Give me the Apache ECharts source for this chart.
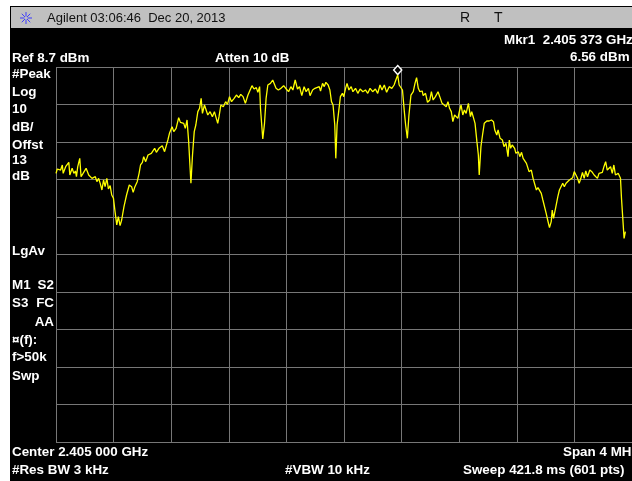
<!DOCTYPE html>
<html>
<head>
<meta charset="utf-8">
<title>Spectrum trace 2.405 GHz</title>
<script src="https://cdn.jsdelivr.net/npm/echarts@6/dist/echarts.min.js"></script>
<style>
  html, body { margin: 0; padding: 0; background: #fff; }
  #chart { width: 632px; height: 481px; }
</style>
</head>
<body>
<div id="chart"></div>
<script>
// Sweep settings
const centerMHz = 2405.0;
const spanMHz = 4.0;
const refLevelDbm = 8.7;
const dbPerDiv = 10;
const divisions = 10;

// Trace: frequency (MHz) and level (dBm)
const freqMHz = [
  2403.000, 2403.009, 2403.032, 2403.044, 2403.050, 2403.067, 2403.078, 2403.089, 2403.096, 2403.112,
  2403.124, 2403.135, 2403.142, 2403.151, 2403.165, 2403.174, 2403.188, 2403.209, 2403.227, 2403.250,
  2403.261, 2403.273, 2403.284, 2403.296, 2403.307, 2403.319, 2403.330, 2403.341, 2403.353, 2403.364,
  2403.376, 2403.387, 2403.399, 2403.410, 2403.422, 2403.433, 2403.445, 2403.456, 2403.472, 2403.490,
  2403.509, 2403.525, 2403.536, 2403.548, 2403.564, 2403.577, 2403.587, 2403.600, 2403.609, 2403.623,
  2403.639, 2403.662, 2403.685, 2403.697, 2403.715, 2403.738, 2403.754, 2403.777, 2403.788,
  2403.806, 2403.818, 2403.834, 2403.852, 2403.864, 2403.887, 2403.898, 2403.910, 2403.921, 2403.937,
  2403.948, 2403.960, 2403.971, 2403.985, 2403.997, 2404.008, 2404.017, 2404.031, 2404.042, 2404.054,
  2404.070, 2404.086, 2404.100, 2404.111, 2404.123, 2404.132, 2404.145, 2404.162, 2404.178, 2404.191,
  2404.205, 2404.219, 2404.237, 2404.253, 2404.269, 2404.283, 2404.299, 2404.315, 2404.333, 2404.345,
  2404.361, 2404.375, 2404.391, 2404.402, 2404.414, 2404.420, 2404.436, 2404.448, 2404.459, 2404.471,
  2404.489, 2404.505, 2404.517, 2404.528, 2404.544, 2404.562, 2404.581,
  2404.599, 2404.615, 2404.631, 2404.645, 2404.661, 2404.677, 2404.691, 2404.707, 2404.723, 2404.737,
  2404.753, 2404.764, 2404.782, 2404.798, 2404.810, 2404.828, 2404.837, 2404.851, 2404.863, 2404.874,
  2404.890, 2404.902, 2404.913, 2404.924, 2404.936, 2404.943, 2404.952, 2404.963, 2404.975, 2404.989,
  2404.998, 2405.011, 2405.021, 2405.034, 2405.050, 2405.062, 2405.080, 2405.096, 2405.112, 2405.131,
  2405.149, 2405.165, 2405.181, 2405.199, 2405.218, 2405.234, 2405.250, 2405.264, 2405.280, 2405.296,
  2405.314, 2405.332, 2405.348, 2405.360, 2405.373, 2405.383, 2405.392,
  2405.406, 2405.419, 2405.428, 2405.440, 2405.451, 2405.465, 2405.481, 2405.493, 2405.504, 2405.516,
  2405.527, 2405.543, 2405.550, 2405.566, 2405.580, 2405.596, 2405.607, 2405.619, 2405.635, 2405.653,
  2405.665, 2405.681, 2405.694, 2405.710, 2405.722, 2405.733, 2405.745, 2405.756, 2405.768, 2405.779,
  2405.791, 2405.802, 2405.813, 2405.825, 2405.836, 2405.848, 2405.864, 2405.878, 2405.887, 2405.900,
  2405.910, 2405.923, 2405.933, 2405.939, 2405.951, 2405.962, 2405.974, 2405.992, 2406.008, 2406.024,
  2406.038, 2406.047, 2406.061, 2406.070, 2406.084, 2406.100, 2406.111, 2406.125, 2406.139, 2406.148,
  2406.157, 2406.168, 2406.185,
  2406.194, 2406.210, 2406.221, 2406.233, 2406.244, 2406.255, 2406.267, 2406.278, 2406.285, 2406.301,
  2406.313, 2406.324, 2406.336, 2406.347, 2406.359, 2406.370, 2406.381, 2406.393, 2406.404, 2406.416,
  2406.427, 2406.439, 2406.446, 2406.455, 2406.469, 2406.485, 2406.496, 2406.507, 2406.519, 2406.530,
  2406.542, 2406.553, 2406.565, 2406.576, 2406.588, 2406.599, 2406.611, 2406.622, 2406.633, 2406.645,
  2406.656, 2406.668, 2406.679, 2406.691, 2406.707, 2406.721, 2406.737, 2406.748, 2406.760, 2406.771,
  2406.782, 2406.794, 2406.805, 2406.817, 2406.828, 2406.840, 2406.851, 2406.863, 2406.874, 2406.885,
  2406.904, 2406.913, 2406.920, 2406.927, 2406.936, 2406.945, 2406.954
];
const levelDbm = [
  -19.66, -18.50, -18.77, -17.43, -19.66, -17.88, -18.32, -16.72, -20.10, -18.32,
  -19.66, -19.03, -20.55, -17.88, -15.66, -20.55, -19.66, -18.32, -20.10, -20.99,
  -21.43, -20.55, -21.88, -20.99, -22.32, -24.10, -21.43, -23.21, -20.99, -23.83,
  -22.94, -25.43, -26.32, -29.88, -33.43, -31.21, -33.61, -32.10, -28.54, -25.43,
  -22.77, -23.21, -24.72, -23.21, -21.88, -19.66, -17.43, -16.72, -15.21, -16.54,
  -14.77, -14.32, -12.99, -14.06, -12.99, -12.28, -13.88, -10.77, -8.99,
  -7.21, -8.54, -7.66, -4.81, -6.06, -6.32, -7.66, -5.43, -11.03, -22.32,
  -14.77, -8.54, -6.77, -3.21, -2.32, 0.34, -3.66, -1.43, -0.99, -4.10,
  -3.21, -4.54, -3.21, -2.77, -6.32, -4.54, -1.43, -1.88, -0.54, -1.26,
  0.79, -0.54, 0.34, 1.23, 0.52, 1.41, 0.79, -0.99, 1.23, 1.68,
  3.72, 2.83, 3.19, 1.94, 3.46, -2.32, -10.50, -6.32, 0.34, 3.90,
  4.34, 5.23, 5.50, 3.01, 2.57, 3.01, 3.72,
  2.83, 2.12, 3.46, 2.57, 5.23, 2.83, 3.46, 1.06, 3.46, 2.12,
  3.01, 1.06, 2.57, 3.01, 2.83, 3.46, 2.30, 4.34, 3.46, 4.61,
  3.90, 2.57, -0.54, -1.43, -6.77, -15.66, -6.77, -3.21, 0.79, 1.68,
  0.79, 3.01, 4.34, 2.57, 3.46, 2.12, 3.01, 1.68, 2.83, 2.12,
  2.57, 1.68, 3.01, 2.12, 2.83, 1.68, 3.90, 2.57, 3.90, 1.94,
  3.46, 3.01, 3.90, 5.23, 6.56, 3.90, 3.46,
  2.57, -3.21, -6.77, -10.32, -4.10, 1.23, 2.12, 4.34, 5.86, 3.01,
  2.12, 2.30, 1.06, 1.68, -0.72, -0.10, 2.12, -0.10, 0.79, 2.12,
  0.79, -0.99, -0.54, -1.88, -0.54, -2.32, -3.21, -5.88, -4.10, -3.66,
  -4.99, -3.03, -1.43, -4.10, -2.77, -3.66, -0.99, -4.54, -3.21, -3.66,
  -6.32, -11.21, -14.77, -20.10, -12.54, -9.43, -6.32, -5.70, -5.70, -5.43,
  -5.88, -8.10, -9.43, -8.10, -10.32, -10.77, -12.54, -11.66, -15.21, -10.77,
  -12.99, -12.10, -12.99,
  -14.32, -13.88, -15.21, -14.06, -15.66, -15.21, -16.99, -16.54, -19.21, -18.77,
  -20.99, -21.43, -24.10, -23.48, -23.66, -24.99, -26.77, -27.21, -30.32, -32.37,
  -34.14, -32.55, -29.43, -31.66, -28.99, -25.88, -24.10, -23.66, -22.32, -23.21,
  -22.32, -22.77, -21.43, -21.88, -20.81, -19.21, -20.10, -20.99, -22.32, -20.99,
  -19.39, -20.99, -19.03, -20.55, -18.77, -19.21, -20.10, -19.66, -20.99, -19.66,
  -19.21, -19.39, -17.88, -16.54, -18.77, -19.21, -17.88, -19.66, -17.43, -20.10,
  -19.66, -20.10, -20.99, -26.32, -31.66, -36.99, -35.21
];

// Marker 1
const markerFreqMHz = 2405.373;
const markerLevelDbm = 6.56;

// Annotation texts
const headerTitle = 'Agilent 03:06:46  Dec 20, 2013';
const sideLabels = ['#Peak', 'Log', '10', 'dB/', 'Offst', '13', 'dB'];

const traceData = freqMHz.map((f, i) => [f, levelDbm[i]]);

const chart = echarts.init(document.getElementById('chart'), null, { renderer: 'canvas' });

const FONT = '"Liberation Sans", Arial, sans-serif';
const W = '#ffffff';
function label(text, x, y, opts) {
  opts = opts || {};
  return {
    type: 'text',
    x: x, y: y,
    style: {
      text: text,
      fill: opts.fill || W,
      font: (opts.weight || 'bold') + ' ' + (opts.size || 13.4) + 'px ' + FONT,
      textAlign: opts.align || 'left',
      textVerticalAlign: 'middle'
    }
  };
}

// Blue starburst logo in the title bar
const logoRays = [];
for (let k = 0; k < 8; k++) {
  const a = k * Math.PI / 4;
  logoRays.push({
    type: 'line',
    shape: { x1: 26 + Math.cos(a) * 1.5, y1: 18 + Math.sin(a) * 1.5, x2: 26 + Math.cos(a) * 6, y2: 18 + Math.sin(a) * 6 },
    style: { stroke: '#3b3bff', lineWidth: 1 }
  });
}

const graphics = [
  // white page margins
  { type: 'rect', shape: { x: 0, y: 0, width: 632, height: 6 }, style: { fill: '#ffffff' } },
  { type: 'rect', shape: { x: 0, y: 0, width: 10, height: 481 }, style: { fill: '#ffffff' } },
  // title bar
  { type: 'rect', shape: { x: 11, y: 7, width: 621, height: 21 }, style: { fill: '#c0c0c0' } },
  ...logoRays,
  label(headerTitle, 47, 18, { fill: '#111', weight: 'normal', size: 13 }),
  label('R', 460, 18, { fill: '#111', weight: 'normal', size: 14 }),
  label('T', 494, 18, { fill: '#111', weight: 'normal', size: 14 }),
  // marker readout
  label('Mkr1  2.405 373 GHz', 504, 40),
  label('6.56 dBm', 570, 57),
  label('Ref 8.7 dBm', 12, 58),
  label('Atten 10 dB', 215, 58),
  // left annotation column
  ...sideLabels.map((t, i) => label(t, 12, [74, 92, 109, 127, 145, 160, 176][i])),
  label('LgAv', 12, 251),
  label('M1', 12, 285), label('S2', 54, 285, { align: 'right' }),
  label('S3', 12, 303), label('FC', 54, 303, { align: 'right' }),
  label('AA', 54, 322, { align: 'right' }),
  label('\u00a4(f):', 12, 340),
  label('f>50k', 12, 357),
  label('Swp', 12, 376),
  // sweep settings
  label('Center 2.405 000 GHz', 12, 452),
  label('Span 4 MHz', 563, 452),
  label('#Res BW 3 kHz', 12, 470),
  label('#VBW 10 kHz', 285, 470),
  label('Sweep 421.8 ms (601 pts)', 463, 470)
];

const gridLine = { show: true, lineStyle: { color: '#777777', width: 1 } };

chart.setOption({
  backgroundColor: '#000000',
  animation: false,
  grid: { left: 56, top: 67, width: 582, height: 375, containLabel: false },
  xAxis: [
    { type: 'value', min: 0, max: divisions, interval: 1, axisLine: { show: false }, axisTick: { show: false }, axisLabel: { show: false }, splitLine: gridLine },
    { type: 'value', min: centerMHz - spanMHz / 2, max: centerMHz + spanMHz / 2, show: false, splitLine: { show: false } }
  ],
  yAxis: [
    { type: 'value', min: 0, max: divisions, interval: 1, axisLine: { show: false }, axisTick: { show: false }, axisLabel: { show: false }, splitLine: gridLine },
    { type: 'value', min: refLevelDbm - dbPerDiv * divisions, max: refLevelDbm, show: false, splitLine: { show: false } }
  ],
  graphic: { elements: graphics },
  series: [{
    type: 'line',
    xAxisIndex: 1,
    yAxisIndex: 1,
    data: traceData,
    showSymbol: false,
    symbol: 'none',
    clip: true,
    lineStyle: { color: '#ffff00', width: 1.3 },
    z: 5,
    markPoint: {
      silent: true,
      symbol: 'diamond',
      symbolSize: [8, 9],
      symbolOffset: [0, -5],
      itemStyle: { color: '#000000', borderColor: '#ffffff', borderWidth: 1.5 },
      label: { show: false },
      data: [{ coord: [markerFreqMHz, markerLevelDbm] }]
    }
  }]
});
</script>
</body>
</html>
